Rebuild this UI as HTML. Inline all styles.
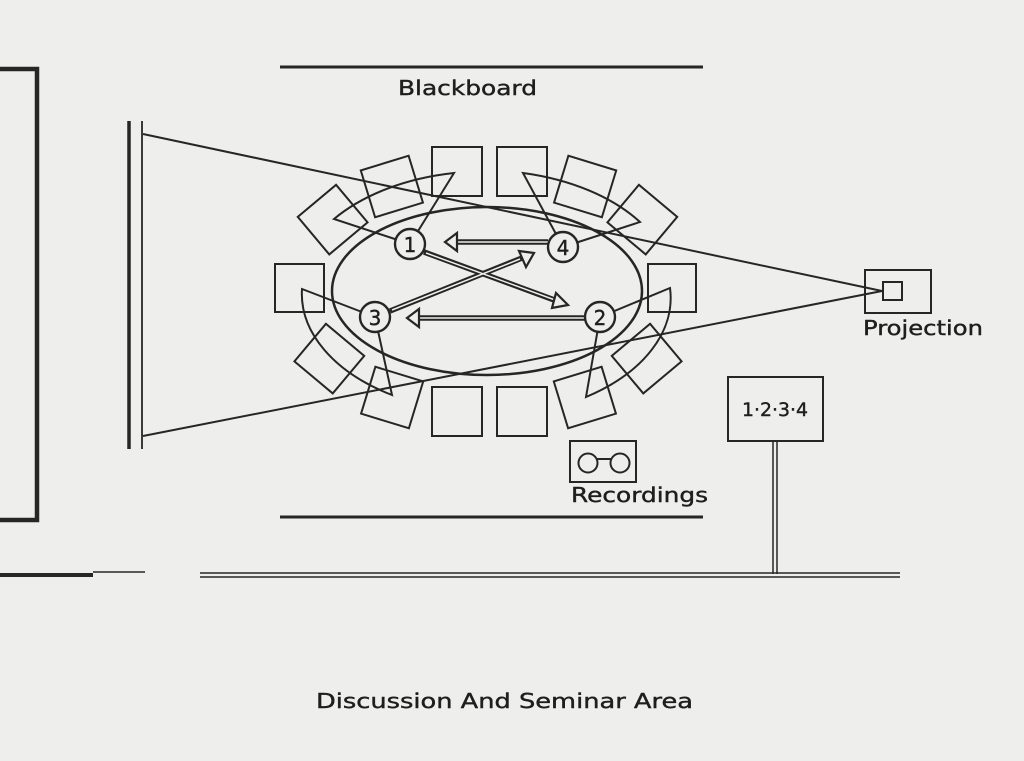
<!DOCTYPE html>
<html><head><meta charset="utf-8"><style>
html,body{margin:0;padding:0;background:#eeeeec;}
svg{display:block;}
text{font-family:"DejaVu Sans","Liberation Sans",sans-serif;fill:#1e1e1e;stroke:#1e1e1e;stroke-width:0.4;}
</style></head><body>
<svg width="1024" height="761" viewBox="0 0 1024 761" xmlns="http://www.w3.org/2000/svg">
<rect width="1024" height="761" fill="#eeeeec"/>
<g fill="none" stroke="#262626" stroke-width="2">
<polyline points="0,69 37,69 37,520 0,520" stroke-width="4.5"/>
<line x1="129" y1="121" x2="129" y2="449" stroke-width="3.5"/>
<line x1="142" y1="121" x2="142" y2="449" stroke-width="1.8"/>
<line x1="143" y1="134" x2="882" y2="291"/>
<line x1="143" y1="436" x2="882" y2="291"/>
<line x1="280" y1="67" x2="703" y2="67" stroke-width="3"/>
<line x1="280" y1="517" x2="703" y2="517" stroke-width="3"/>
<ellipse cx="487" cy="291" rx="155" ry="84" stroke-width="2.5"/>
<path d="M410,244 L454,173 A190,119 0 0 0 334,219 Z"/>
<path d="M563,247 L523,173 A190,119 0 0 1 640,222 Z"/>
<path d="M375,317 L302,289 A190,119 0 0 0 392,395 Z"/>
<path d="M600,317 L670,288 A190,119 0 0 1 586,397 Z"/>
<rect x="432" y="147" width="50" height="49"/>
<rect x="497" y="147" width="50" height="49"/>
<rect x="367" y="162" width="50" height="49" transform="rotate(-17 392 187)"/>
<rect x="560" y="162" width="50" height="49" transform="rotate(17 585 187)"/>
<rect x="308" y="195" width="50" height="49" transform="rotate(-40 333 220)"/>
<rect x="617" y="195" width="50" height="49" transform="rotate(40 642 220)"/>
<rect x="275" y="264" width="49" height="48"/>
<rect x="648" y="264" width="48" height="48"/>
<rect x="304" y="334" width="50" height="49" transform="rotate(40 329 359)"/>
<rect x="622" y="334" width="50" height="49" transform="rotate(-40 647 359)"/>
<rect x="367" y="373" width="50" height="49" transform="rotate(17 392 398)"/>
<rect x="560" y="373" width="50" height="49" transform="rotate(-17 585 398)"/>
<rect x="432" y="387" width="50" height="49"/>
<rect x="497" y="387" width="50" height="49"/>
<g stroke-width="5.5" stroke="#262626">
<line x1="548" y1="242" x2="455" y2="242"/>
<line x1="390" y1="311" x2="522" y2="258"/>
<line x1="424" y1="252" x2="557" y2="301"/>
<line x1="585" y1="318" x2="418" y2="318"/>
</g>
<g stroke-width="1.5" stroke="#eeeeec">
<line x1="548" y1="242" x2="457" y2="242"/>
<line x1="392" y1="310" x2="520" y2="259"/>
<line x1="426" y1="253" x2="555" y2="300"/>
<line x1="584" y1="318" x2="420" y2="318"/>
</g>
<g fill="#eeeeec" stroke-width="2.2">
<polygon points="445,242 457,233 457,251"/>
<polygon points="534,253 519,251 526,267"/>
<polygon points="568,305 556,293 552,308"/>
<polygon points="407,318 419,309 419,327"/>
</g>
<g fill="#eeeeec" stroke-width="2.4">
<circle cx="410" cy="244" r="15"/>
<circle cx="563" cy="247" r="15"/>
<circle cx="375" cy="317" r="15"/>
<circle cx="600" cy="317" r="15"/>
</g>
<rect x="865" y="270" width="66" height="43"/>
<rect x="883" y="282" width="19" height="18"/>
<rect x="728" y="377" width="95" height="64"/>
<line x1="773" y1="441" x2="773" y2="574" stroke-width="1.5"/>
<line x1="777" y1="441" x2="777" y2="574" stroke-width="1.5"/>
<rect x="570" y="441" width="66" height="41"/>
<circle cx="588" cy="463" r="9.5"/>
<circle cx="620" cy="463" r="9.5"/>
<line x1="597" y1="459" x2="611" y2="459"/>
<line x1="0" y1="575" x2="93" y2="575" stroke-width="4"/>
<line x1="93" y1="572" x2="145" y2="572" stroke-width="1.5"/>
<line x1="200" y1="573" x2="900" y2="573" stroke-width="1.5"/>
<line x1="200" y1="577" x2="900" y2="577" stroke-width="1.5"/>
</g>
<g font-size="20">
<text x="563" y="255" text-anchor="middle" font-size="20">4</text>
<text x="410" y="252" text-anchor="middle" font-size="20">1</text>
<text x="375" y="325" text-anchor="middle" font-size="20">3</text>
<text x="600" y="325" text-anchor="middle" font-size="20">2</text>
<text x="398" y="95" textLength="139" lengthAdjust="spacingAndGlyphs">Blackboard</text>
<text x="863" y="335" textLength="120" lengthAdjust="spacingAndGlyphs">Projection</text>
<text x="571" y="502" textLength="137" lengthAdjust="spacingAndGlyphs">Recordings</text>
<text x="742" y="416" textLength="66" lengthAdjust="spacingAndGlyphs" font-size="19">1·2·3·4</text>
<text x="316" y="708" textLength="377" lengthAdjust="spacingAndGlyphs">Discussion And Seminar Area</text>
</g>
</svg>
</body></html>
